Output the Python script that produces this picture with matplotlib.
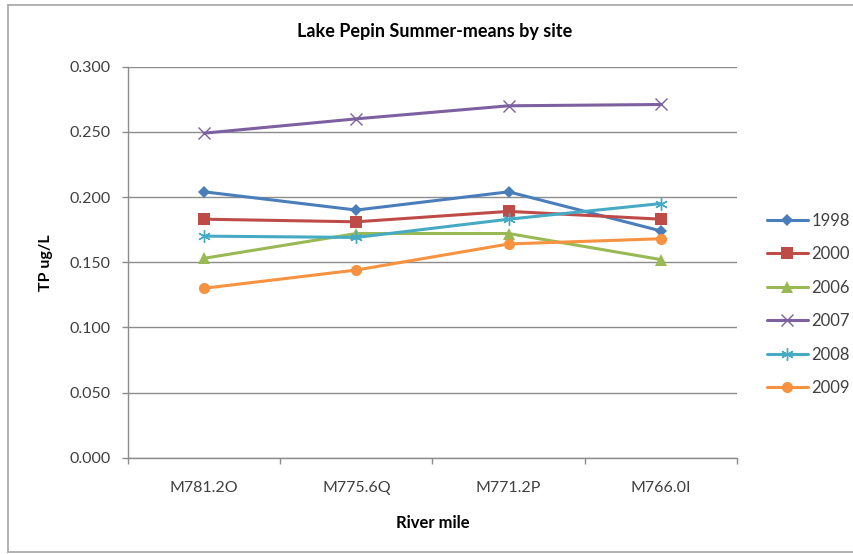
import matplotlib
matplotlib.use("Agg")
import matplotlib.pyplot as plt
from matplotlib.lines import Line2D
import numpy as np

sites = ["M781.2O", "M775.6Q", "M771.2P", "M766.0I"]
years = ["1998", "2000", "2006", "2007", "2008", "2009"]
tp_1998 = [0.204, 0.190, 0.204, 0.174]
tp_2000 = [0.183, 0.181, 0.189, 0.183]
tp_2006 = [0.153, 0.172, 0.172, 0.152]
tp_2007 = [0.249, 0.260, 0.270, 0.271]
tp_2008 = [0.170, 0.169, 0.183, 0.195]
tp_2009 = [0.130, 0.144, 0.164, 0.168]
y_ticks = [0.000, 0.050, 0.100, 0.150, 0.200, 0.250, 0.300]

series = [tp_1998, tp_2000, tp_2006, tp_2007, tp_2008, tp_2009]
colors = ["#4A7EBB", "#BE4B48", "#98B954", "#7D60A0", "#46AAC5", "#F69240"]
styles = [
    dict(marker="D", ms=6.5, mew=0),
    dict(marker="s", ms=8, mew=0),
    dict(marker="^", ms=8, mew=0),
    dict(marker="x", ms=9, mew=1.0),
    dict(marker=(6, 2, 0), ms=9, mew=1.0),
    dict(marker="o", ms=8, mew=0),
]

plt.rcParams["font.family"] = ["Lato", "DejaVu Sans"]
text_col = "#404040"
grid_col = "#8C8C8C"

fig = plt.figure(figsize=(8.54, 5.54), dpi=100)
W, H = 854, 554

# chart frame
for (x0, y0, x1, y1) in [(8, 5, 8, 552), (8, 5, 854, 5), (8, 552, 854, 552)]:
    fig.add_artist(Line2D([x0 / W, x1 / W], [1 - y0 / H, 1 - y1 / H],
                          color="#A6A6A6", lw=1.2, transform=fig.transFigure))

ax = fig.add_axes([128 / W, 1 - 457.7 / H, (737 - 128) / W, (457.7 - 66.7) / H])
x = np.arange(len(sites))
handles = []
for vals, c, st, yr in zip(series, colors, styles, years):
    h, = ax.plot(x, vals, color=c, lw=2.2, mfc=c, mec=c, label=yr,
                 solid_capstyle="round", zorder=3, **st)
    handles.append(h)

ax.set_xlim(-0.5, len(sites) - 0.5)
ax.set_ylim(0, 0.3)
ax.set_yticks(y_ticks)
ax.set_yticklabels([f"{v:.3f}" for v in y_ticks])
ax.set_xticks(x)
ax.set_xticklabels(sites)
ax.set_xticks(np.arange(-0.5, len(sites)), minor=True)
ax.tick_params(axis="x", which="major", length=0, pad=17, labelsize=11.5, colors=text_col)
ax.tick_params(axis="x", which="minor", length=4.5, color=grid_col, width=1)
ax.tick_params(axis="y", length=4.5, color=grid_col, width=1, pad=8, labelsize=11.5,
               labelcolor=text_col)
ax.grid(axis="y", color=grid_col, lw=1)
ax.set_axisbelow(True)
for s in ["top", "right"]:
    ax.spines[s].set_visible(False)
for s in ["left", "bottom"]:
    ax.spines[s].set_color(grid_col)
    ax.spines[s].set_linewidth(1)

ax.set_xlabel("River mile", fontsize=12, fontweight="bold", color="black", labelpad=14)
ax.set_ylabel("TP ug/L", fontsize=11.5, fontweight="bold", color="black", labelpad=12)
fig.text(0.5 * (123 + 747) / W, 1 - 32 / H, "Lake Pepin Summer-means by site",
         ha="center", va="center", fontsize=13, fontweight="bold", color="black")

leg = fig.legend(handles=handles, loc="upper left", bbox_to_anchor=(760 / W, 1 - 206 / H),
                 frameon=False, fontsize=12, labelspacing=1.05, handlelength=2.5,
                 handletextpad=0.2, borderaxespad=0)
for t in leg.get_texts():
    t.set_color(text_col)

fig.savefig("out.png", dpi=100)
